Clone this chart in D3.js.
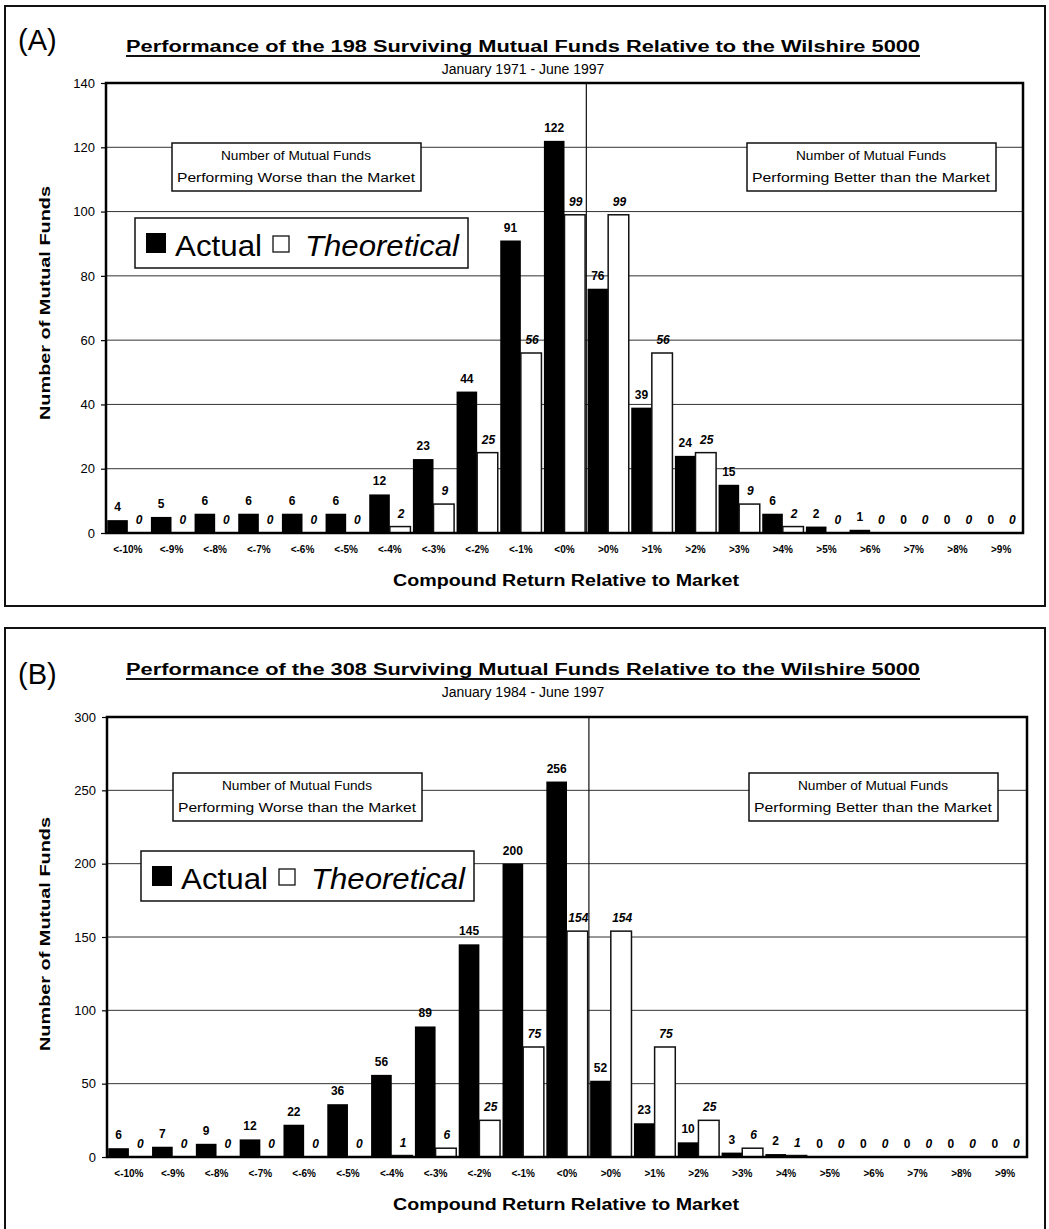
<!DOCTYPE html>
<html><head><meta charset="utf-8">
<script src="https://cdn.jsdelivr.net/npm/d3@7/dist/d3.min.js"></script>
<style>
html,body{margin:0;padding:0;background:#fff;}
svg{display:block;font-family:"Liberation Sans",Arial,sans-serif;}
</style></head>
<body>
<svg id="chart" width="1049" height="1229"></svg>
<script>
const categories = ["<-10%","<-9%","<-8%","<-7%","<-6%","<-5%","<-4%","<-3%","<-2%","<-1%","<0%",">0%",">1%",">2%",">3%",">4%",">5%",">6%",">7%",">8%",">9%"];
const actualA      = [4,5,6,6,6,6,12,23,44,91,122,76,39,24,15,6,2,1,0,0,0];
const theoreticalA = [0,0,0,0,0,0,2,9,25,56,99,99,56,25,9,2,0,0,0,0,0];
const actualB      = [6,7,9,12,22,36,56,89,145,200,256,52,23,10,3,2,0,0,0,0,0];
const theoreticalB = [0,0,0,0,0,0,1,6,25,75,154,154,75,25,6,1,0,0,0,0,0];
const ticksA = [0,20,40,60,80,100,120,140];
const ticksB = [0,50,100,150,200,250,300];
const titleA = "Performance of the 198 Surviving Mutual Funds Relative to the Wilshire 5000";
const titleB = "Performance of the 308 Surviving Mutual Funds Relative to the Wilshire 5000";
const subA = "January 1971 - June 1997";
const subB = "January 1984 - June 1997";

const svg = d3.select("#chart");

function panel(o){
  const g = svg.append("g");
  g.append("rect").attr("x",o.frame[0]).attr("y",o.frame[1]).attr("width",o.frame[2]).attr("height",o.frame[3])
    .attr("fill","none").attr("stroke","#111").attr("stroke-width",2);
  g.append("text").attr("x",o.frame[0]+13).attr("y",o.top-33).attr("font-size",29).text(o.letter);
  const tx = 523;
  g.append("text").attr("x",tx).attr("y",o.titleY).attr("text-anchor","middle").attr("font-weight","bold")
    .attr("font-size",16).attr("textLength",794).attr("lengthAdjust","spacingAndGlyphs").text(o.title);
  g.append("line").attr("x1",tx-397).attr("x2",tx+397).attr("y1",o.titleY+4).attr("y2",o.titleY+4)
    .attr("stroke","#111").attr("stroke-width",2);
  g.append("text").attr("x",tx).attr("y",o.titleY+22).attr("text-anchor","middle").attr("font-size",14).text(o.sub);

  const x = d3.scaleBand().domain(categories).range([o.left,o.right]).paddingInner(0).paddingOuter(0);
  const y = d3.scaleLinear().domain([0,o.max]).range([o.bottom,o.top]);
  const inner = d3.scaleBand().domain(["a","t"]).range([0,x.bandwidth()]).paddingOuter(0.06).paddingInner(0);

  g.append("g").selectAll("line").data(o.ticks.filter(t=>t>0&&t<o.max)).join("line")
    .attr("x1",o.left).attr("x2",o.right).attr("y1",d=>y(d)).attr("y2",d=>y(d))
    .attr("stroke","#333").attr("stroke-width",1);
  const xd = x(">0%");
  g.append("line").attr("x1",xd).attr("x2",xd).attr("y1",o.top).attr("y2",o.bottom).attr("stroke","#111").attr("stroke-width",1.2);

  function annot(bx,by,l1,l2){
    g.append("rect").attr("x",bx).attr("y",by).attr("width",249).attr("height",48)
      .attr("fill","#fff").attr("stroke","#111").attr("stroke-width",1.5);
    g.append("text").attr("x",bx+124).attr("y",by+17).attr("text-anchor","middle").attr("font-size",12.5)
      .attr("textLength",150).attr("lengthAdjust","spacingAndGlyphs").text(l1);
    g.append("text").attr("x",bx+124).attr("y",by+39).attr("text-anchor","middle").attr("font-size",12.5)
      .attr("textLength",238).attr("lengthAdjust","spacingAndGlyphs").text(l2);
  }
  annot(o.boxW[0],o.boxW[1],"Number of Mutual Funds","Performing Worse than the Market");
  annot(o.boxB[0],o.boxB[1],"Number of Mutual Funds","Performing Better than the Market");

  const lg = g.append("g").attr("transform",`translate(${o.legend[0]},${o.legend[1]})`);
  lg.append("rect").attr("width",333).attr("height",50).attr("fill","#fff").attr("stroke","#111").attr("stroke-width",1.5);
  lg.append("rect").attr("x",11).attr("y",15).attr("width",20).attr("height",20).attr("fill","#000");
  lg.append("text").attr("x",40).attr("y",38).attr("font-size",30).attr("textLength",87).attr("lengthAdjust","spacingAndGlyphs").text("Actual");
  lg.append("rect").attr("x",138).attr("y",18).attr("width",16).attr("height",16).attr("fill","#fff").attr("stroke","#111").attr("stroke-width",1.3);
  lg.append("text").attr("x",170).attr("y",38).attr("font-size",30).attr("font-style","italic")
    .attr("textLength",154).attr("lengthAdjust","spacingAndGlyphs").text("Theoretical");

  const actual = o.actual, theo = o.theo;
  g.append("g").selectAll("rect").data(categories).join("rect")
    .attr("x",(d)=>x(d)+inner("a")).attr("width",inner.bandwidth())
    .attr("y",(d,i)=>y(actual[i])).attr("height",(d,i)=>o.bottom-y(actual[i])).attr("fill","#000");
  g.append("g").selectAll("rect").data(categories).join("rect")
    .attr("x",(d)=>x(d)+inner("t")).attr("width",inner.bandwidth())
    .attr("y",(d,i)=>y(theo[i])).attr("height",(d,i)=>o.bottom-y(theo[i]))
    .attr("fill","#fff").attr("stroke","#111").attr("stroke-width",1.5);

  g.append("g").selectAll("text").data(categories).join("text")
    .attr("x",(d)=>x(d)+inner("a")+inner.bandwidth()/2).attr("y",(d,i)=>y(actual[i])-9)
    .attr("text-anchor","middle").attr("font-size",12).attr("font-weight","bold").text((d,i)=>actual[i]);
  g.append("g").selectAll("text").data(categories).join("text")
    .attr("x",(d)=>x(d)+inner("t")+inner.bandwidth()/2+1).attr("y",(d,i)=>y(theo[i])-9)
    .attr("text-anchor","middle").attr("font-size",12).attr("font-weight","bold").attr("font-style","italic").text((d,i)=>theo[i]);

  g.append("rect").attr("x",o.left).attr("y",o.top).attr("width",o.right-o.left).attr("height",o.bottom-o.top)
    .attr("fill","none").attr("stroke","#000").attr("stroke-width",2.5);

  const ya = g.append("g").attr("transform",`translate(${o.left},0)`)
    .call(d3.axisLeft(y).tickValues(o.ticks).tickSize(5).tickPadding(6).tickFormat(d3.format("d")));
  ya.select(".domain").remove();
  ya.selectAll("line").attr("stroke","#000").attr("stroke-width",1.2);
  ya.selectAll("text").attr("font-size",13).attr("font-family","Liberation Sans, Arial, sans-serif").attr("fill","#000");

  const xa = g.append("g").attr("transform",`translate(0,${o.bottom})`)
    .call(d3.axisBottom(x).tickSize(0).tickPadding(13));
  xa.select(".domain").remove();
  xa.selectAll("text").attr("font-size",10).attr("font-weight","bold").attr("font-family","Liberation Sans, Arial, sans-serif").attr("fill","#000");

  g.append("text").attr("x",566).attr("y",o.bottom+53).attr("text-anchor","middle").attr("font-size",16)
    .attr("font-weight","bold").attr("textLength",346).attr("lengthAdjust","spacingAndGlyphs").text("Compound Return Relative to Market");
  g.append("text").attr("transform",`translate(50,${o.yTitleY}) rotate(-90)`).attr("text-anchor","middle")
    .attr("font-size",15).attr("font-weight","bold").attr("textLength",234).attr("lengthAdjust","spacingAndGlyphs").text("Number of Mutual Funds");
}

panel({letter:"(A)",frame:[5,6,1040,600],title:titleA,sub:subA,titleY:52,
  left:106,right:1023,top:83,bottom:533,max:140,ticks:ticksA,actual:actualA,theo:theoreticalA,
  boxW:[172,143],boxB:[747,143],legend:[135,218],yTitleY:303});
panel({letter:"(B)",frame:[5,628,1040,620],title:titleB,sub:subB,titleY:675,
  left:107,right:1027,top:717,bottom:1157,max:300,ticks:ticksB,actual:actualB,theo:theoreticalB,
  boxW:[173,773],boxB:[749,773],legend:[141,851],yTitleY:934});
</script>
</body></html>
